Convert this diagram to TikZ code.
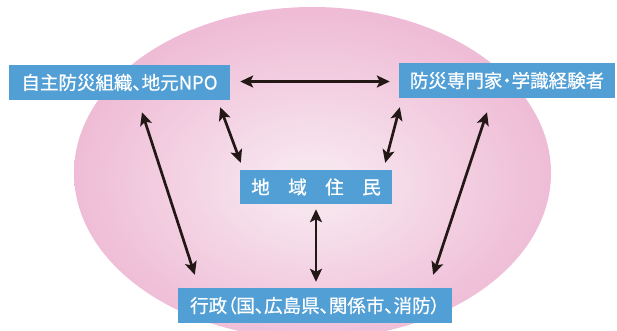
\documentclass[tikz,border=0pt]{standalone}
\usepackage{fontspec}
\setmainfont{Noto Sans CJK JP}[RawFeature=+palt, FakeBold=0.7]
\usetikzlibrary{arrows.meta,calc}
\definecolor{boxblue}{HTML}{529FD6}
\definecolor{pinkedge}{HTML}{EBA6CB}
\definecolor{pinkmid}{HTML}{EFBCD6}
\definecolor{pinkcenter}{HTML}{F7E5EE}
\definecolor{arrowcol}{HTML}{231815}
\pgfdeclareradialshading{ellshade}{\pgfpoint{0bp}{-2bp}}{color(0bp)=(pinkcenter); color(4bp)=(pinkcenter); color(25bp)=(pinkmid); color(50bp)=(pinkedge)}
\tikzset{
  box/.style={fill=boxblue, text=white, inner sep=0pt, font=\fontsize{18.5}{20}\selectfont},
  biarrow/.style={draw=arrowcol, line width=2.7pt,
    {Stealth[length=13pt,width=12pt,inset=3pt]}-{Stealth[length=13pt,width=12pt,inset=3pt]}},
}
\begin{document}
\begin{tikzpicture}[x=1pt,y=-1pt]
\useasboundingbox (0,0) rectangle (617,330);
\shade[shading=ellshade] (312.5,173) ellipse [x radius=238.5, y radius=166];
\node[box, minimum width=221pt, minimum height=35pt] (npo) at (119.5,82.5) {自主防災組織、地元NPO};
\node[box, minimum width=216pt, minimum height=35pt] (exp) at (507,80.5) {防災専門家・学識経験者};
\node[box, minimum width=152pt, minimum height=34pt] (res) at (316,187) {地\hspace{1em}域\hspace{1em}住\hspace{1em}民};
\node[box, minimum width=274pt, minimum height=35pt] (gov) at (315,305.5) {行政（国、広島県、関係市、消防）};
\draw[biarrow] ($(npo.east)+(10,-1)$) -- ($(exp.west)+(-9,1)$);
\draw[biarrow] ($(npo.south east)+(-10,7)$) -- ($(res.north west)+(1,-7)$);
\draw[biarrow] ($(exp.south west)+(1,9)$) -- ($(res.north east)+(-7,-7)$);
\draw[biarrow] ($(npo.south)+(22.5,12)$) -- ($(gov.north west)+(17,-13)$);
\draw[biarrow] ($(exp.south)+(-20,14)$) -- ($(gov.north east)+(-19,-13)$);
\draw[biarrow] ($(res.south)+(0,5)$) -- ($(gov.north)+(1,-6)$);
\end{tikzpicture}
\end{document}
